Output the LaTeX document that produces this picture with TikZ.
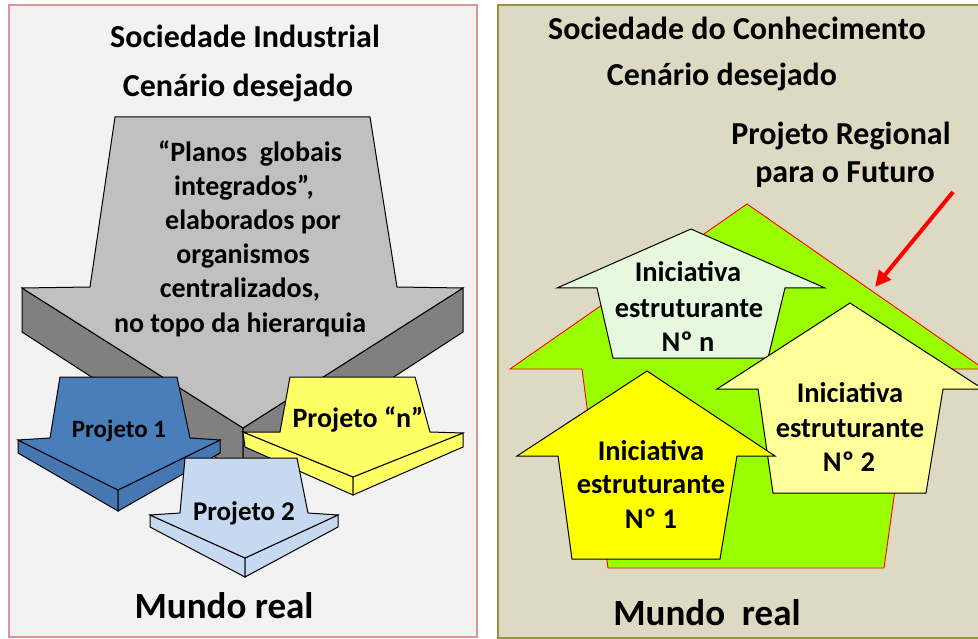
\documentclass[tikz,border=0pt]{standalone}
\usepackage{fontspec}
\setmainfont{Carlito}
\usetikzlibrary{arrows.meta}
\definecolor{panelL}{HTML}{F2F2F2}
\definecolor{borderL}{HTML}{D99694}
\definecolor{panelR}{HTML}{DDD9C3}
\definecolor{borderR}{HTML}{94943A}
\definecolor{grayfront}{HTML}{C0C0C0}
\definecolor{grayside}{HTML}{808080}
\definecolor{bluefront}{HTML}{4A7EBB}
\definecolor{blueside}{HTML}{4677B2}
\definecolor{lblue}{HTML}{C6D9F1}
\definecolor{yel}{HTML}{FFFF66}
\definecolor{limeg}{HTML}{99FF00}
\definecolor{paleg}{HTML}{E6F9DE}
\definecolor{paley}{HTML}{FFFF99}
\definecolor{yel2}{HTML}{FFFF00}
\begin{document}
\begin{tikzpicture}[x=1pt,y=-1pt,
  txt/.style={font=\bfseries\fontsize{#1}{#1}\selectfont, inner sep=0pt, anchor=base, text=black},
  shp/.style={draw=black, line width=1pt, line join=miter},
  house/.style={draw=red, line width=0.9pt}]
\useasboundingbox (0,0) rectangle (978,639);
\begin{scope}
\clip (0,0) rectangle (978,639);
% panels
\draw[fill=panelL, draw=borderL, line width=2.5pt] (9,5) rectangle (477,637);
\draw[fill=panelR, draw=borderR, line width=2.5pt] (498,5) rectangle (990,638);

% ---------- left panel ----------
\node[txt=32] (t1) at (245,48) {Sociedade Industrial};
\node[txt=32] (t2) at (238,97) {Cenário desejado};

% big gray 3D arrow
\filldraw[shp, fill=grayside] (22,288) -- (243,428) -- (243,475) -- (22,332) -- cycle;
\filldraw[shp, fill=grayside] (463,288) -- (243,428) -- (243,475) -- (463,332) -- cycle;
\filldraw[shp, fill=grayfront] (115,117) -- (370,117) -- (397,287) -- (463,288) -- (243,428) -- (22,288) -- (90,287) -- cycle;
\node[txt=28] (g1) at (250,162) {“Planos\ \ globais};
\node[txt=28] (g2) at (244,196) {integrados”,};
\node[txt=28] (g3) at (253,230) {elaborados por};
\node[txt=28] (g4) at (243,264) {organismos};
\node[txt=28] (g5) at (240,298) {centralizados,};
\node[txt=28] (g6) at (240,333) {no topo da hierarquia};

% Projeto 1 (blue)
\filldraw[shp, fill=blueside] (18,440) -- (118,490) -- (118,511) -- (18,453) -- cycle;
\filldraw[shp, fill=blueside] (220,440) -- (118,490) -- (118,511) -- (220,453) -- cycle;
\filldraw[shp, fill=bluefront] (60,377) -- (177,377) -- (190,438) -- (220,440) -- (118,490) -- (18,440) -- (50,438) -- cycle;
\node[txt=25] (p1) at (119,437) {Projeto 1};

% Projeto n (yellow)
\filldraw[shp, fill=yel] (243,432) -- (353,477) -- (353,495) -- (245,447) -- cycle;
\filldraw[shp, fill=yel] (463,433) -- (353,477) -- (353,495) -- (463,447) -- cycle;
\filldraw[shp, fill=yel] (290,377) -- (415,377) -- (430,432) -- (463,433) -- (353,477) -- (243,432) -- (280,432) -- cycle;
\node[txt=28] (pn) at (358,427) {Projeto “n”};

% Projeto 2 (light blue)
\filldraw[shp, fill=lblue] (150,515) -- (245,558) -- (245,577) -- (150,527) -- cycle;
\filldraw[shp, fill=lblue] (338,515) -- (245,558) -- (245,577) -- (338,527) -- cycle;
\filldraw[shp, fill=lblue] (185,458) -- (297,458) -- (308,513) -- (338,515) -- (245,558) -- (150,515) -- (180,513) -- cycle;
\node[txt=27] (p2) at (244,520) {Projeto 2};

\node[txt=37] (m1) at (224,618) {Mundo real};

% ---------- right panel ----------
\node[txt=32] (r1) at (737,40) {Sociedade do Conhecimento};
\node[txt=32] (r2) at (722,86) {Cenário desejado};
\node[txt=32] (r3) at (841,145) {Projeto Regional};
\node[txt=32] (r4) at (845,183) {para o Futuro};

% green house
\filldraw[house, fill=limeg] (747,204) -- (984,369) -- (912,369) -- (884,568) -- (608,568) -- (582,369) -- (510,369) -- cycle;

% Iniciativa n
\filldraw[shp, fill=paleg] (691,229) -- (825,288) -- (785,288) -- (768,358) -- (613,358) -- (597,288) -- (557,288) -- cycle;
\node[txt=28.5] (n1) at (688,282) {Iniciativa};
\node[txt=28.5] (n2) at (689,317) {estruturante};
\node[txt=28.5] (n3) at (688,352) {Nº n};

% Iniciativa 2
\filldraw[shp, fill=paley] (850,303) -- (983,389) -- (943,389) -- (926,493) -- (773,493) -- (758,389) -- (717,389) -- cycle;
\node[txt=28.5] (b1) at (850,402) {Iniciativa};
\node[txt=28.5] (b2) at (850,437) {estruturante};
\node[txt=28.5] (b3) at (849,471) {Nº 2};

% Iniciativa 1
\filldraw[shp, fill=yel2] (647,371) -- (775,456) -- (737,456) -- (720,559) -- (572,559) -- (558,456) -- (517,456) -- cycle;
\node[txt=28.5] (a1) at (651,460) {Iniciativa};
\node[txt=28.5] (a2) at (651,493) {estruturante};
\node[txt=28.5] (a3) at (651,528) {Nº 1};

\node[txt=37] (m2) at (707,625) {Mundo\ \ real};

% red pointer arrow
\coordinate (rs) at (953,192);
\coordinate (re) at (875,287);
\draw[red, line width=4pt, -{Triangle[length=16pt,width=15pt]}] (rs) -- (re);
\end{scope}
\end{tikzpicture}
\end{document}
